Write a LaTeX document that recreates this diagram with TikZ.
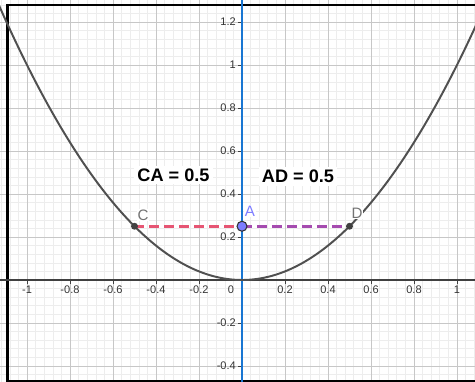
\documentclass[tikz,border=0pt]{standalone}
\usepackage{fontspec}
\setmainfont{Liberation Sans}
\definecolor{lineblue}{RGB}{25,118,210}
\definecolor{capink}{RGB}{230,85,115}
\definecolor{adpurple}{RGB}{165,75,175}
\definecolor{ptblue}{RGB}{125,125,255}
\definecolor{curvegray}{RGB}{80,80,80}
\tikzset{
  minorgrid/.style={draw=black!7,line width=0.4pt},
  majorgrid/.style={draw=black!22,line width=0.5pt},
  ticklabel/.style={font=\fontsize{7.3}{8}\selectfont,text=black!80,inner sep=0.5pt},
  ptlabel/.style={font=\fontsize{10}{11}\selectfont,inner sep=0.5pt,fill=white},
  lenlabel/.style={font=\bfseries\fontsize{12}{14}\selectfont,fill=white,inner sep=2pt},
  segdash/.style={line width=2.3pt,dash pattern=on 6.6pt off 3.3pt}
}
\begin{document}
\begin{tikzpicture}[x=5cm,y=5cm]
\useasboundingbox (-1.1256,-0.4744) rectangle (1.0837,1.3023);
\clip (-1.1256,-0.4744) rectangle (1.0837,1.3023);
% grid
\draw[minorgrid,step=0.04] (-1.2,-0.52) grid (1.2,1.4);
\draw[majorgrid,step=0.2] (-1.2,-0.6) grid (1.2,1.4);
% frame
\draw[line width=1.4pt] (1.2,1.2791) -- (-1.0907,1.2791) -- (-1.0907,-0.4698) -- (1.2,-0.4698);
% axes
\draw[black!75,line width=1pt] (-1.2,0) -- (1.2,0);
\foreach \x [count=\k] in {-1,-0.8,-0.6,-0.4,-0.2,0.2,0.4,0.6,0.8,1} {
  \draw[black!75,line width=0.6pt] (\x,0) -- (\x,-0.018);
  \node[ticklabel,anchor=north] (xt\k) at (\x,-0.022) {\x};
}
\foreach \y [count=\k] in {-0.4,-0.2,0.2,0.4,0.6,0.8,1,1.2} {
  \draw[black!75,line width=0.6pt] (0,\y) -- (-0.018,\y);
  \node[ticklabel,anchor=east] (yt\k) at (-0.024,\y) {\y};
}
\node[ticklabel,anchor=north east] (o) at (-0.032,-0.022) {0};
% line x = 0
\draw[lineblue,line width=1.6pt] (0,-0.6) -- (0,1.4);
% parabola
\draw[curvegray,line width=1.3pt,domain=-1.13:1.09,samples=120] plot (\x,{\x*\x});
% points and segments
\coordinate (C) at (-0.5,0.25);
\coordinate (A) at (0,0.25);
\coordinate (D) at (0.5,0.25);
\draw[capink,segdash] (C) -- (A);
\draw[adpurple,segdash] (A) -- (D);
\fill[curvegray!80!black] (C) circle (2.3pt);
\fill[curvegray!80!black] (D) circle (2.3pt);
\filldraw[fill=ptblue,draw=black!80,line width=0.7pt] (A) circle (3.3pt);
\node[ptlabel,text=black!55] (lC) at (-0.4605,0.3023) {C};
\node[ptlabel,text=ptblue] (lA) at (0.0372,0.3209) {A};
\node[ptlabel,text=black!55] (lD) at (0.5349,0.3116) {D};
% lengths
\node[lenlabel] (ca) at (-0.3186,0.4884) {CA = 0.5};
\node[lenlabel] (ad) at (0.2605,0.4814) {AD = 0.5};
\end{tikzpicture}
\end{document}
